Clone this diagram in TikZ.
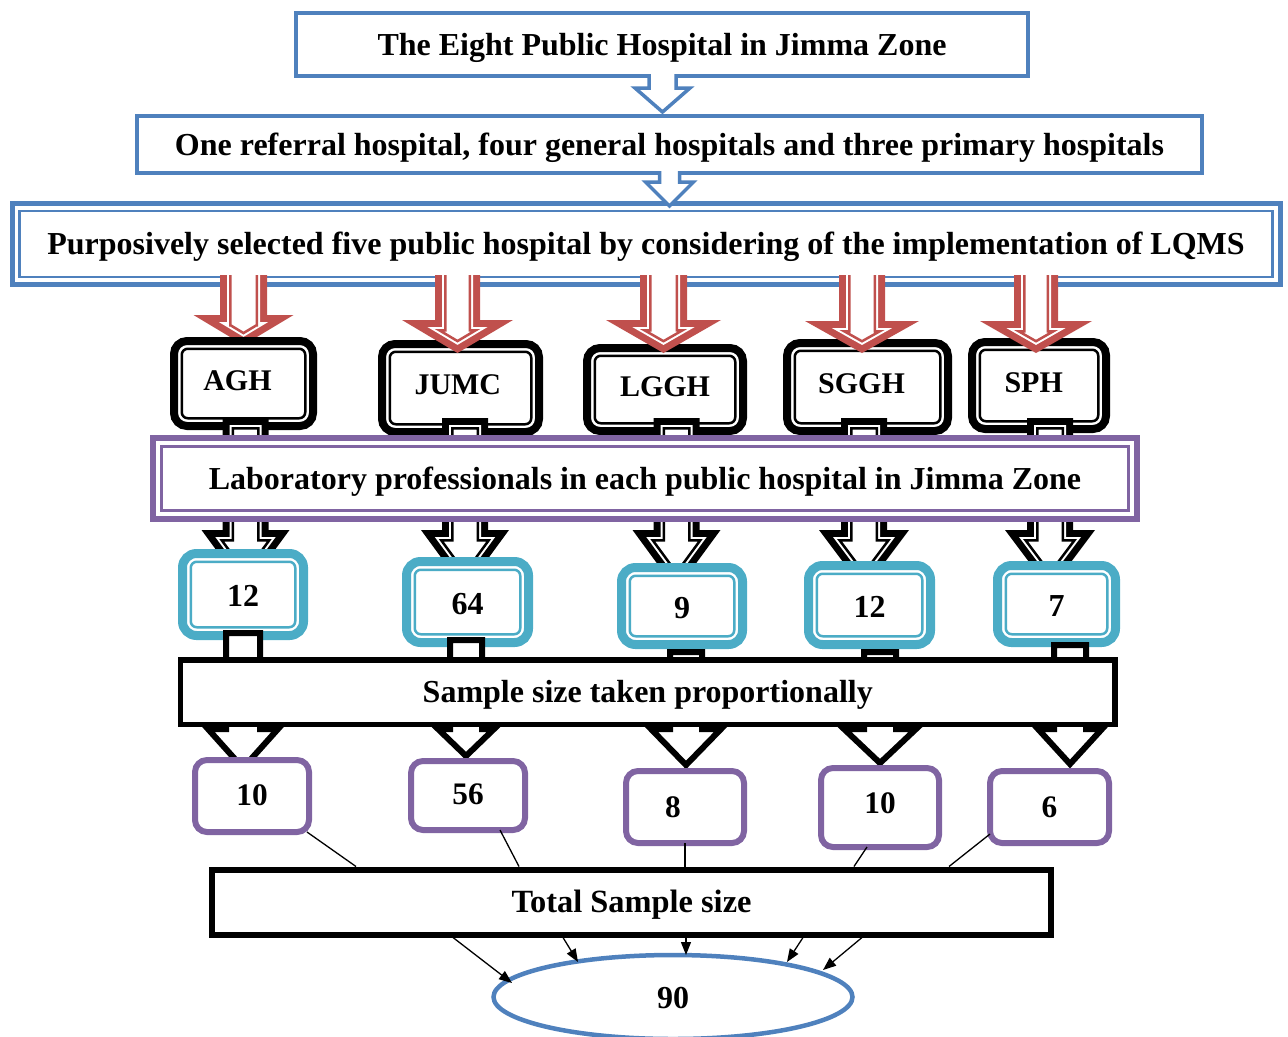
\documentclass[tikz,border=0pt]{standalone}
\usepackage{fontspec}
\setmainfont{Liberation Serif}
\usetikzlibrary{calc,arrows.meta,shapes.geometric}
\definecolor{cblue}{RGB}{79,129,189}
\definecolor{cred}{RGB}{192,80,77}
\definecolor{cpurple}{RGB}{128,100,162}
\definecolor{cteal}{RGB}{75,172,198}
\def\P{0.75pt}
\def\bA{7}\def\bG{2}\def\bT{2.5}
\newcommand\qinset[8]{%
 \pgfmathsetmacro\qS{#4-(#1)}%
 \pgfmathsetmacro\qH{#5-(#1)*(\qLL+#5)/\qHH}%
 \pgfmathsetmacro\qY{#6+(#1)}%
 \pgfmathsetmacro\qT{#7-(#1)*\qLL/#5}%
 \pgfmathsetmacro\qP{#3+#8*(#1)}%
}
\newcommand\dblarrow[8]{%
 \pgfmathsetmacro\qHH{#7-#6}%
 \pgfmathsetmacro\qLL{sqrt((#5)*(#5)+(\qHH)*(\qHH))}%
 \fill[#1] (#2-#4,#3) -- (#2-#4,#6) -- (#2-#5,#6) -- (#2,#7) -- (#2+#5,#6) -- (#2+#4,#6) -- (#2+#4,#3) -- cycle;
 \qinset{\bA}{#2}{#3}{#4}{#5}{#6}{#7}{#8}%
 \fill[white] (#2-\qS,\qP) -- (#2-\qS,\qY) -- (#2-\qH,\qY) -- (#2,\qT) -- (#2+\qH,\qY) -- (#2+\qS,\qY) -- (#2+\qS,\qP) -- cycle;
 \pgfmathsetmacro\qD{\bA+\bG+0.5*\bT}%
 \qinset{\qD}{#2}{#3}{#4}{#5}{#6}{#7}{#8}%
 \ifnum#8=1
  \draw[#1, line width=\bT*\P] (#2-\qS,\qP) -- (#2-\qS,\qY) -- (#2-\qH,\qY) -- (#2,\qT) -- (#2+\qH,\qY) -- (#2+\qS,\qY) -- (#2+\qS,\qP) -- cycle;
 \else
  \draw[#1, line width=\bT*\P] (#2-\qS,\qP) -- (#2-\qS,\qY) -- (#2-\qH,\qY) -- (#2,\qT) -- (#2+\qH,\qY) -- (#2+\qS,\qY) -- (#2+\qS,\qP);
 \fi
}
\newcommand\sarrow[8]{%
 \fill[white] (#2-#4,#3) -- (#2-#4,#6) -- (#2-#5,#6) -- (#2,#7) -- (#2+#5,#6) -- (#2+#4,#6) -- (#2+#4,#3) -- cycle;
 \ifnum#8=1
  \draw[#1] (#2-#4,#3) -- (#2-#4,#6) -- (#2-#5,#6) -- (#2,#7) -- (#2+#5,#6) -- (#2+#4,#6) -- (#2+#4,#3) -- cycle;
 \else
  \draw[#1] (#2-#4,#3) -- (#2-#4,#6) -- (#2-#5,#6) -- (#2,#7) -- (#2+#5,#6) -- (#2+#4,#6) -- (#2+#4,#3);
 \fi
}
\newcommand\innerframe[5]{%
 \draw[#2, line width=#4*\P, #5] ($(#1.north west)+(#3,#3)$) rectangle ($(#1.south east)-(#3,#3)$);
}
\tikzset{
 txt/.style={font=\bfseries\fontsize{24}{28}\selectfont, inner sep=0pt, outer sep=0pt, text height=21*\P, text depth=0pt},
 bluebox/.style={draw=cblue, line width=3.5*\P, fill=white, txt},
 hosp/.style={draw=black, line width=8*\P, fill=white, rounded corners=13*\P, txt, font=\bfseries\fontsize{22.5}{27}\selectfont, text height=13*\P},
 tealbox/.style={draw=cteal, line width=9*\P, fill=white, rounded corners=14*\P, font=\bfseries\fontsize{24}{28}\selectfont, inner sep=0pt, outer sep=0pt, text height=24*\P, text depth=0pt},
 numbox/.style={draw=cpurple, line width=6*\P, fill=white, rounded corners=12*\P, font=\bfseries\fontsize{23.5}{28}\selectfont, inner sep=0pt, outer sep=0pt, text height=18*\P, text depth=0pt},
 blkbox/.style={draw=black, fill=white, txt},
 bluearr/.style={draw=cblue, line width=3.5*\P, line join=miter},
 blkarr/.style={draw=black, line width=6*\P, line join=miter},
 thinln/.style={line width=1.3*\P},
 tarrow/.style={thinln, -{Triangle[length=13*\P, width=10*\P]}},
}
\begin{document}
\begin{tikzpicture}[x=0.75pt,y=-0.75pt]
\useasboundingbox (0,0) rectangle (1288,1036);
% top boxes
\node[bluebox, minimum width=732*\P, minimum height=63*\P] (b1) at (662,44.5) {The Eight Public Hospital in Jimma Zone};
\node[bluebox, minimum width=1065*\P, minimum height=57*\P] (b2) at (669.5,144.5) {One referral hospital, four general hospitals and three primary hospitals};
\node[bluebox, line width=5*\P, minimum width=1268*\P, minimum height=81*\P] (b3) at (646,244) {Purposively selected five public hospital by considering of the implementation of LQMS};
\innerframe{b3}{cblue}{7.5}{2.5}{}
% blue arrows
\sarrow{bluearr}{662.5}{74}{13.5}{27.5}{88}{112}{0}
\sarrow{bluearr}{669.5}{171}{10}{24}{182}{206}{0}
% red arrows and hospitals
\dblarrow{cred}{243.5}{275}{23.5}{50}{315}{345}{0}
\node[hosp, minimum width=139*\P, minimum height=85*\P] (agh) at (243.5,383.5) {AGH\hspace*{9pt}};
\innerframe{agh}{black}{7.75}{2.5}{rounded corners=6*\P}
\node[hosp, minimum width=157*\P, minimum height=88*\P] (jumc) at (460.5,388) {JUMC\hspace*{4pt}};
\innerframe{jumc}{black}{7.75}{2.5}{rounded corners=6*\P}
\node[hosp, minimum width=156*\P, minimum height=83*\P] (lggh) at (665,389.5) {LGGH};
\innerframe{lggh}{black}{7.75}{2.5}{rounded corners=6*\P}
\node[hosp, minimum width=161*\P, minimum height=88*\P] (sggh) at (867.5,387) {SGGH\hspace*{9pt}};
\innerframe{sggh}{black}{7.75}{2.5}{rounded corners=6*\P}
\node[hosp, minimum width=134*\P, minimum height=87*\P] (sph) at (1039,385.5) {SPH\hspace*{8pt}};
\innerframe{sph}{black}{7.75}{2.5}{rounded corners=6*\P}
\dblarrow{cred}{457.5}{275}{22.5}{55.5}{320}{353}{0}
\dblarrow{cred}{663.5}{275}{23.5}{57.5}{320}{353}{0}
\dblarrow{cred}{862}{275}{23}{57}{321}{353}{0}
\dblarrow{cred}{1036}{275}{22}{56}{321}{353}{0}
% black double arrows
\dblarrow{black}{245.5}{418}{23}{44}{530}{590}{1}
\dblarrow{black}{465}{418}{23}{44}{530}{590}{1}
\dblarrow{black}{676.5}{418}{23}{44}{530}{590}{1}
\dblarrow{black}{864}{418}{23}{45}{530}{590}{1}
\dblarrow{black}{1050}{418}{23}{45}{530}{590}{1}
% purple box
\node[blkbox, draw=cpurple, line width=6*\P, minimum width=984*\P, minimum height=81*\P] (lab) at (645,478.5) {Laboratory professionals in each public hospital in Jimma Zone};
\innerframe{lab}{cpurple}{8.5}{2.5}{}
% teal boxes
\node[tealbox, minimum width=121*\P, minimum height=82*\P] (t1) at (243,594.5) {12};
\innerframe{t1}{cteal}{8.25}{2.5}{rounded corners=6*\P}
\node[tealbox, minimum width=122*\P, minimum height=81*\P] (t2) at (467.5,602) {64};
\innerframe{t2}{cteal}{8.25}{2.5}{rounded corners=6*\P}
\node[tealbox, minimum width=121*\P, minimum height=77*\P] (t3) at (682,606) {9};
\innerframe{t3}{cteal}{8.25}{2.5}{rounded corners=6*\P}
\node[tealbox, minimum width=122*\P, minimum height=79*\P] (t4) at (869.5,605) {12};
\innerframe{t4}{cteal}{8.25}{2.5}{rounded corners=6*\P}
\node[tealbox, minimum width=118*\P, minimum height=77*\P] (t5) at (1056.5,604) {7};
\innerframe{t5}{cteal}{8.25}{2.5}{rounded corners=6*\P}
% black single arrows
\sarrow{blkarr}{243}{633}{17}{35}{729}{768}{1}
\sarrow{blkarr}{466}{640}{16}{28}{729}{756}{1}
\sarrow{blkarr}{686}{652}{16}{35}{729}{765}{1}
\sarrow{blkarr}{880}{652}{16}{36}{729}{763}{1}
\sarrow{blkarr}{1070}{645}{16}{32}{729}{764}{1}
% sample box
\node[blkbox, line width=5.5*\P, minimum width=934.5*\P, minimum height=64.5*\P] (samp) at (647.75,692.25) {Sample size taken proportionally};
% number boxes
\node[numbox, minimum width=114*\P, minimum height=72*\P] (n1) at (252,796) {10};
\node[numbox, minimum width=114*\P, minimum height=69*\P] (n2) at (468,795.5) {56};
\node[numbox, minimum width=118*\P, minimum height=72*\P, text height=20*\P] (n3) at (685,807) {8\hspace*{18pt}};
\node[numbox, minimum width=118*\P, minimum height=79*\P, text height=12*\P] (n4) at (880,807.5) {10};
\node[numbox, minimum width=119*\P, minimum height=72*\P, text height=20*\P] (n5) at (1049.5,807) {6};
% total box
\node[blkbox, line width=6*\P, minimum width=839*\P, minimum height=65*\P, font=\bfseries\fontsize{24.3}{28}\selectfont] (tot) at (631.5,902) {Total Sample size};
% thin lines
\draw[thinln] ($(n1.south)+(55,0)$) -- ($(tot.north west)+(144,-3)$);
\draw[thinln] ($(n2.south)+(32,0)$) -- ($(tot.north west)+(307,-3)$);
\draw[thinln] (n3.south) -- ($(n3.south |- tot.north)+(0,-3)$);
\draw[thinln] ($(n4.south)+(-13,0)$) -- ($(tot.north west)+(642,-3)$);
\draw[thinln] ($(n5.south west)+(0,-9)$) -- ($(tot.north west)+(737,-3)$);
% ellipse
\node[draw=cblue, line width=4.5*\P, ellipse, fill=white, minimum width=359*\P, minimum height=84*\P, inner sep=0pt, outer sep=0pt, font=\bfseries\fontsize{24}{28}\selectfont, text height=22*\P, text depth=0pt] (ell) at (673,997) {90};
% arrows to ellipse
\draw[tarrow] ($(tot.south west)+(241,3)$) -- ($(ell.center)+(-161,-14)$);
\draw[tarrow] ($(tot.south west)+(351,3)$) -- ($(ell.center)+(-95,-35)$);
\draw[tarrow] ($(tot.south west)+(474,3)$) -- ($(ell.center)+(13,-42)$);
\draw[tarrow] ($(tot.south west)+(591,3)$) -- ($(ell.center)+(114,-35)$);
\draw[tarrow] ($(tot.south west)+(650,3)$) -- ($(ell.center)+(150,-27)$);
\end{tikzpicture}
\end{document}
